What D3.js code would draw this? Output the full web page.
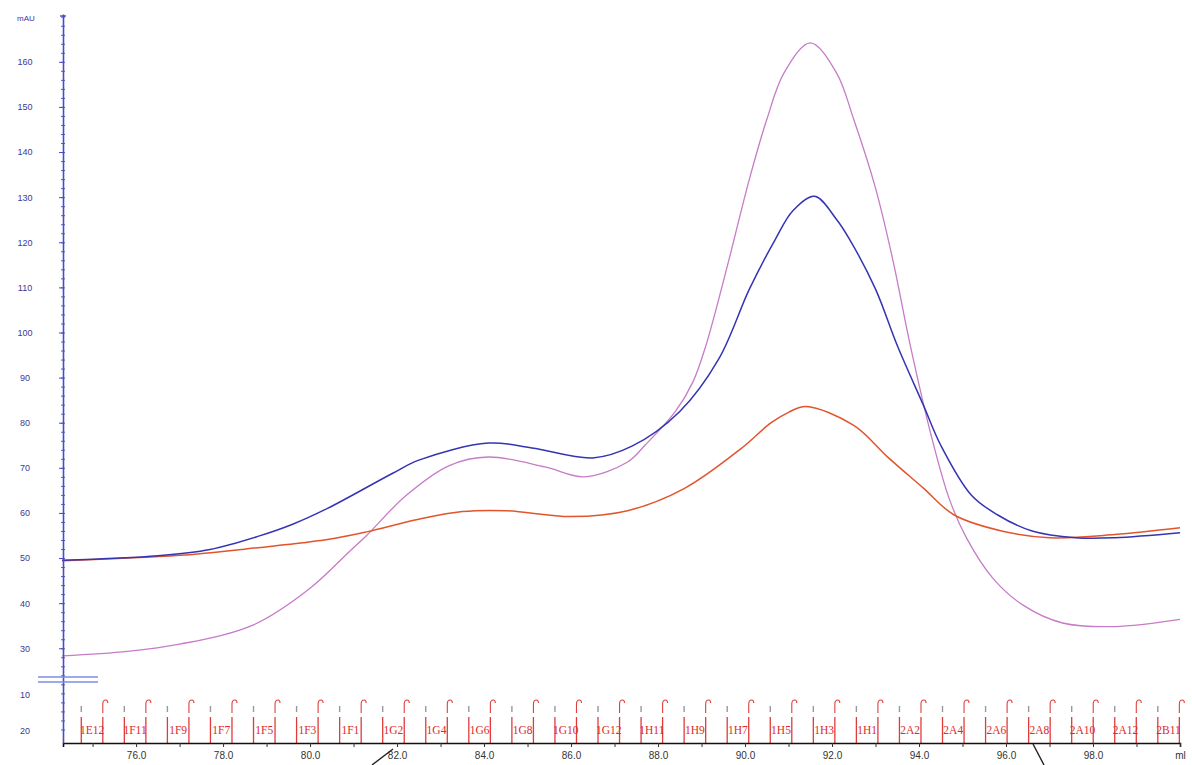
<!DOCTYPE html>
<html>
<head>
<meta charset="utf-8">
<script src="https://cdn.jsdelivr.net/npm/d3@7/dist/d3.min.js"></script>
<style>
body { margin: 0; background: #fff; }
</style>
</head>
<body>
<div id="chart"></div>
<script>
// chromatogram traces, ml vs mAU
var blueMl = [74.3, 76.5, 77.7, 78.8, 79.6, 80.4, 81.9, 82.5, 84.1, 85.1, 86.5, 87.4, 88.5, 89.4, 90.1, 90.7, 91.1, 91.6, 92.1, 92.4, 93.0, 93.5, 94.1, 94.5, 95.2, 95.8, 96.6, 97.6, 98.5, 100.0];
var blueAu = [49.5, 50.5, 51.9, 54.8, 57.5, 61.0, 68.8, 71.7, 75.5, 74.4, 72.2, 74.8, 82.5, 94.2, 109.6, 120.7, 127.0, 130.2, 125.1, 120.7, 109.6, 97.1, 83.9, 75.0, 64.0, 59.6, 56.0, 54.5, 54.5, 55.6];

var redMl = [74.3, 77.0, 78.8, 80.4, 81.3, 82.5, 83.5, 84.5, 86.0, 87.3, 88.6, 89.9, 90.6, 91.0, 91.4, 92.5, 93.3, 94.1, 94.8, 95.9, 97.0, 98.5, 100.0];
var redAu = [49.4, 50.6, 52.3, 54.1, 55.8, 58.6, 60.3, 60.5, 59.2, 60.5, 65.4, 74.2, 80.0, 82.3, 83.6, 79.4, 72.2, 65.5, 59.6, 56.0, 54.5, 55.2, 56.7];

var pinkMl = [74.3, 75.8, 77.0, 78.7, 80.0, 80.9, 81.3, 82.2, 83.2, 84.1, 85.4, 86.3, 87.3, 87.7, 88.4, 88.8, 89.1, 89.6, 90.1, 90.5, 90.9, 91.5, 92.1, 92.5, 93.0, 93.4, 93.8, 94.3, 94.7, 95.1, 95.7, 96.4, 97.3, 98.5, 100.0];
var pinkAu = [28.3, 29.3, 30.9, 35.2, 43.3, 51.4, 55.0, 63.8, 70.5, 72.4, 70.2, 68.0, 71.3, 75.0, 82.5, 89.0, 97.1, 115.0, 134.0, 147.2, 157.6, 164.2, 157.6, 147.2, 132.0, 116.0, 97.1, 76.4, 63.0, 54.3, 45.5, 39.5, 35.6, 34.8, 36.4];

var yTicks = [160, 150, 140, 130, 120, 110, 100, 90, 80, 70, 60, 50, 40, 30];
// labels printed below the axis break
var breakTicks = [19.7, 11.7];
var breakLabels = ["10", "20"];

var xTicks = [76, 78, 80, 82, 84, 86, 88, 90, 92, 94, 96, 98, 100];
var xTickLabels = ["76.0", "78.0", "80.0", "82.0", "84.0", "86.0", "88.0", "90.0", "92.0", "94.0", "96.0", "98.0", "ml"];

var fracLabels = ["1E12", "1F11", "1F9", "1F7", "1F5", "1F3", "1F1", "1G2", "1G4", "1G6", "1G8", "1G10", "1G12",
  "1H11", "1H9", "1H7", "1H5", "1H3", "1H1", "2A2", "2A4", "2A6", "2A8", "2A10", "2A12", "2B11"];
var fracStart = 74.74, fracVol = 0.495;

var W = 1192, H = 765;
var padL = 63, padR = 1180, padT = 14, padB = 743;

var svg = d3.select("#chart").
  append("svg").
  attr("width", W).
  attr("height", H).
  style("font-family", "Liberation Sans, Arial, sans-serif");

var x = d3.scaleLinear().domain([74.32, 100]).range([padL, padR]);
var y = d3.scaleLinear().domain([9.0, 170.6]).range([padB, padT]);

// fraction marks
var bounds = d3.range(0, fracLabels.length * 2).map(function(k) { return fracStart + k * fracVol; });

svg.append("g").selectAll("line").
  data(bounds).
  enter().append("line").
  attr("x1", function(d) { return x(d); }).
  attr("x2", function(d) { return x(d); }).
  attr("y1", 717).
  attr("y2", padB).
  attr("stroke", "#e23a3a").
  attr("stroke-width", 1.3);

svg.append("g").selectAll("text").
  data(fracLabels).
  enter().append("text").
  attr("x", function(d, i) { return x(fracStart + (2 * i + 0.5) * fracVol); }).
  attr("y", 734).
  attr("text-anchor", "middle").
  attr("fill", "#dc2a2a").
  style("font-family", "Liberation Serif, serif").
  style("font-size", "11.5px").
  text(function(d) { return d; });

// little flags above the fractions: grey tick on the left edge, red hook on the right
svg.append("g").selectAll("line").
  data(bounds.filter(function(d, k) { return k % 2 == 0; })).
  enter().append("line").
  attr("x1", function(d) { return x(d); }).
  attr("x2", function(d) { return x(d); }).
  attr("y1", 706).
  attr("y2", 712).
  attr("stroke", "#999").
  attr("stroke-width", 1.4);

svg.append("g").selectAll("path").
  data(bounds.filter(function(d, k) { return k % 2 == 1; })).
  enter().append("path").
  attr("d", function(d) {
    var px = x(d);
    return "M" + px + ",713 L" + px + ",704 Q" + px + ",700 " + (px + 3) + ",700 Q" + (px + 5) + ",700 " + (px + 5) + ",703";
  }).
  attr("fill", "none").
  attr("stroke", "#e04040").
  attr("stroke-width", 1.1);

// traces
function trace(ml, au, colour, w) {
  var pts = ml.map(function(d, i) { return [d, au[i]]; });
  svg.append("path").
    datum(pts).
    attr("fill", "none").
    attr("stroke", colour).
    attr("stroke-width", w).
    attr("d", d3.line().
      x(function(d) { return x(d[0]); }).
      y(function(d) { return y(d[1]); }).
      curve(d3.curveCatmullRom.alpha(0.5)));
}
trace(pinkMl, pinkAu, "#c67cc8", 1.3);
trace(redMl, redAu, "#e2552c", 1.5);
trace(blueMl, blueAu, "#3434b4", 1.5);

// x axis
var xAxis = svg.append("g").
  attr("transform", "translate(0," + padB + ")").
  call(d3.axisBottom(x).
    tickValues(d3.range(75, 101, 1)).
    tickSize(4).
    tickFormat(function(d) { var i = xTicks.indexOf(d); return i < 0 ? "" : xTickLabels[i]; }));
xAxis.select(".domain").attr("stroke", "#111").attr("stroke-width", 1.6);
xAxis.selectAll(".tick line").attr("stroke", "#333");
xAxis.selectAll("text").
  attr("fill", "#333").
  attr("dy", "0.9em").
  style("font-size", "10px");

// y axis, minor ticks first
var yMinor = svg.append("g").
  attr("transform", "translate(" + padL + ",0)").
  call(d3.axisLeft(y).tickValues(d3.range(12, 171, 2)).tickSize(2).tickFormat(""));
yMinor.selectAll(".tick line").attr("stroke", "#5a5ac8").attr("x2", 2).attr("x1", -2);
yMinor.select(".domain").remove();

var yAxis = svg.append("g").
  attr("transform", "translate(" + padL + ",0)").
  call(d3.axisLeft(y).tickValues(yTicks).tickSize(4).tickSizeOuter(0));
yAxis.select(".domain").attr("stroke", "#4b4bc8").attr("stroke-width", 1.6);
yAxis.selectAll(".tick line").attr("stroke", "#4b4bc8");
yAxis.selectAll("text").
  attr("x", -38).
  attr("text-anchor", "middle").
  attr("fill", "#3a3a96").
  style("font-size", "9px");

svg.append("g").selectAll("text").
  data(breakLabels).
  enter().append("text").
  attr("x", 25).
  attr("y", function(d, i) { return y(breakTicks[i]); }).
  attr("dy", "0.32em").
  attr("text-anchor", "middle").
  attr("fill", "#3a3a96").
  style("font-size", "9px").
  text(function(d) { return d; });

svg.append("text").
  attr("x", 26).
  attr("y", 21).
  attr("text-anchor", "middle").
  attr("fill", "#3a3a96").
  style("font-size", "8px").
  text("mAU");

svg.append("line").
  attr("x1", padL - 3).attr("x2", padL + 3).
  attr("y1", padT + 2).attr("y2", padT + 2).
  attr("stroke", "#4b4bc8").attr("stroke-width", 1.4);

// axis break marker
[677, 682].forEach(function(py) {
  svg.append("line").
    attr("x1", 38).attr("x2", 98).
    attr("y1", py).attr("y2", py).
    attr("stroke", "#7c8ce0").
    attr("stroke-width", 1.4);
});

// pen strokes on the scan
svg.append("line").attr("x1", 372).attr("y1", 765).attr("x2", 393).attr("y2", 749).
  attr("stroke", "#222").attr("stroke-width", 1.4);
svg.append("line").attr("x1", 1033).attr("y1", 744).attr("x2", 1044).attr("y2", 765).
  attr("stroke", "#222").attr("stroke-width", 1.4);
</script>
</body>
</html>
